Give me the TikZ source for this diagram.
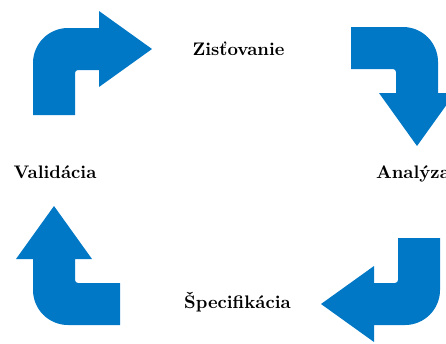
\documentclass[tikz,border=0pt]{standalone}
\usepackage{fontspec}
\definecolor{cycleblue}{RGB}{0,120,198}
\begin{document}
\begin{tikzpicture}[x=0.55pt,y=0.55pt,
  stage/.style={font=\bfseries, anchor=base, inner sep=0pt},
  bentarrow/.pic={
    \fill[cycleblue] (0,0) -- (42,0) -- (42,42)
      arc[start angle=180,end angle=90,radius=3] -- (66,45)
      -- (66,28) -- (119,66) -- (66,104) -- (66,87) -- (35,87)
      arc[start angle=90,end angle=180,radius=35] -- cycle;
  }]
  \useasboundingbox (0,0) rectangle (446,343);

  % the four bent arrows of the cycle
  \pic at (33,228) {bentarrow};
  \pic[rotate=-90] at (351,316) {bentarrow};
  \pic[rotate=180] at (440,105) {bentarrow};
  \pic[rotate=90] at (120,18) {bentarrow};

  % stage labels
  \node[stage] (zist) at (238.5,288) {Zisťovanie};
  \node[stage] (anal) at (413,165) {Analýza};
  \node[stage] (spec) at (237.5,35) {Špecifikácia};
  \node[stage] (vali) at (55,165) {Validácia};
\end{tikzpicture}
\end{document}
